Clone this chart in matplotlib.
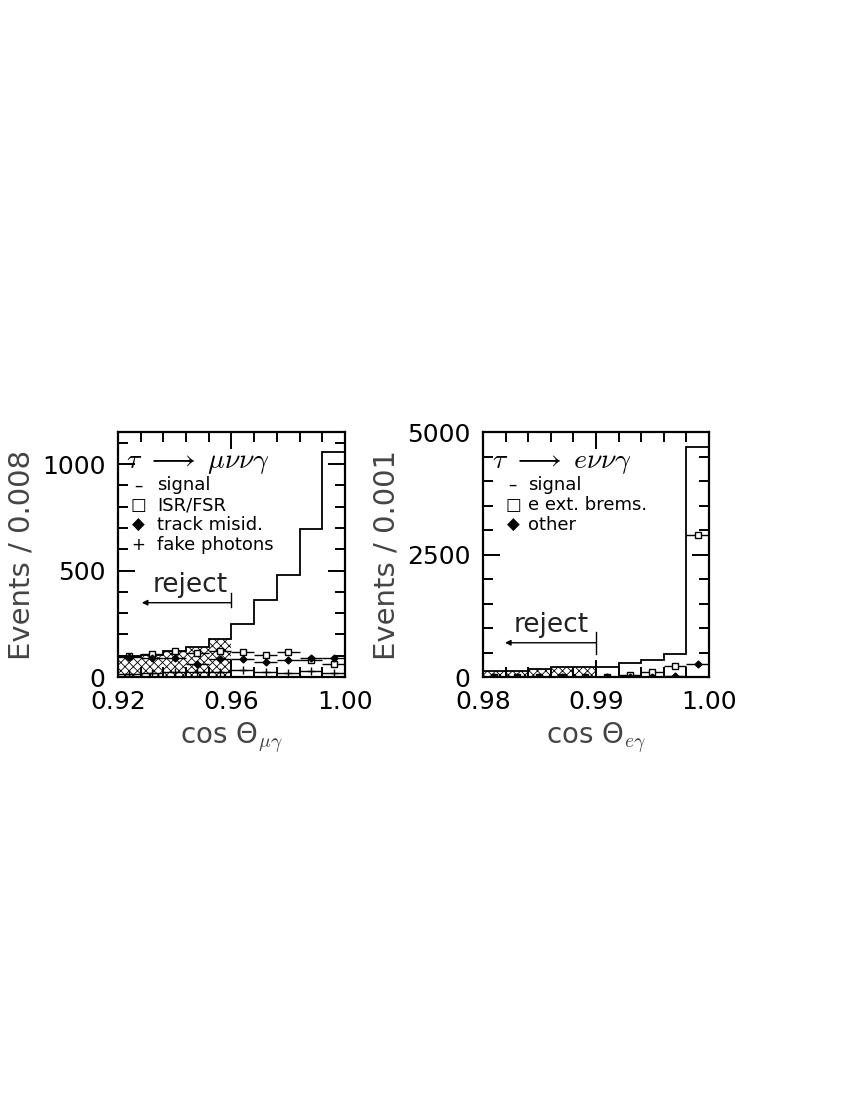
import matplotlib
matplotlib.use('Agg')
import matplotlib.pyplot as plt
import numpy as np

plt.rcParams['font.family'] = ['DejaVu Sans']
plt.rcParams['mathtext.fontset'] = 'cm'
plt.rcParams['hatch.linewidth'] = 0.6

# left panel: tau -> mu nu nu gamma, bins of 0.008
mu_edges = np.linspace(0.92, 1.00, 11)
mu_signal = [98, 103, 122, 139, 177, 248, 360, 478, 695, 1055]
mu_isr = [99, 108, 122, 114, 122, 119, 103, 119, 80, 59]
mu_misid = [95, 90, 88, 60, 85, 83, 70, 80, 88, 88]
mu_fake = [12, 18, 22, 26, 26, 33, 25, 20, 28, 17]

# right panel: tau -> e nu nu gamma, bins of 0.001 (0.002 wide)
e_edges = np.linspace(0.98, 1.00, 11)
e_signal = [130, 130, 165, 205, 205, 200, 285, 350, 465, 4700]
e_brems = [0, 0, 0, 0, 0, 0, 50, 95, 225, 2900]
e_other = [0, 0, 0, 0, 0, 0, 5, 8, 30, 260]

fig = plt.figure(figsize=(8.5, 11), dpi=100)
ax1 = fig.add_axes([0.1388, 0.3845, 0.2671, 0.2227])
ax2 = fig.add_axes([0.5682, 0.3845, 0.2659, 0.2227])


def style_axes(ax, xlim, ylim, xmaj, xmin, ymaj, ymin, ylabel, xlabel):
    ax.set_xlim(*xlim)
    ax.set_ylim(*ylim)
    ax.set_xticks(xmaj)
    ax.set_xticks(xmin, minor=True)
    ax.set_yticks(ymaj)
    ax.set_yticks(ymin, minor=True)
    ax.tick_params(which='both', direction='in', top=True, right=True, width=1.4)
    ax.tick_params(which='major', length=12, labelsize=18, pad=9)
    ax.tick_params(which='minor', length=7)
    for s in ax.spines.values():
        s.set_linewidth(1.6)
    ax.set_ylabel(ylabel, fontsize=21, color='#444444', labelpad=5)
    ax.set_xlabel(xlabel, fontsize=20, color='#444444', labelpad=5)


def draw_panel(ax, edges, signal, series, cut, reject_y, reject_left):
    centers = (edges[:-1] + edges[1:]) / 2
    width = edges[1] - edges[0]
    signal = np.array(signal)
    rej = centers < cut
    ax.bar(centers[rej], signal[rej], width=width, fill=False, hatch='xxxx',
           edgecolor='black', linewidth=0)
    ax.stairs(signal, edges, color='black', linewidth=1.3)
    for vals, marker, mfc, ms in series:
        ax.errorbar(centers, vals, xerr=width / 2, yerr=np.sqrt(np.array(vals)) * 0.3,
                    fmt=marker, mfc=mfc, mec='black', ms=ms, color='black',
                    elinewidth=1.0, capsize=0, zorder=4)
    # reject arrow
    ax.annotate('', xy=(reject_left, reject_y), xytext=(cut, reject_y),
                arrowprops=dict(arrowstyle='-|>', color='black', lw=1.0,
                                mutation_scale=8, shrinkA=0, shrinkB=0))
    return centers


style_axes(ax1, (0.92, 1.00), (0, 1150), [0.92, 0.96, 1.00], mu_edges,
           [0, 500, 1000], np.arange(0, 1150, 100), 'Events / 0.008',
           r'cos Θ$_{\mu\gamma}$')
ax1.set_xticklabels(['0.92', '0.96', '1.00'])
draw_panel(ax1, mu_edges, mu_signal,
           [(mu_isr, 's', 'white', 4.5), (mu_misid, 'D', 'black', 3.5),
            (mu_fake, '+', 'black', 6)],
           0.96, 349, 0.9284)
ax1.plot([0.96, 0.96], [330, 395], color='black', lw=1.0)
ax1.text(0.9455, 372, 'reject', fontsize=19, ha='center', va='bottom', color='#222222')
ax1.text(0.9228, 1010, r'$\tau\ \longrightarrow\ \mu\nu\nu\gamma$', fontsize=20,
         ha='left', va='center')
leg1 = [('–', 'signal'), ('□', 'ISR/FSR'), ('◆', 'track misid.'), ('+', 'fake photons')]
for i, (sym, lab) in enumerate(leg1):
    y = 900 - i * 94
    ax1.text(0.92705, y, sym, fontsize=12, ha='center', va='center')
    ax1.text(0.93375, y, lab, fontsize=13, ha='left', va='center')

style_axes(ax2, (0.98, 1.00), (0, 5000), [0.98, 0.99, 1.00], e_edges,
           [0, 2500, 5000], np.arange(0, 5001, 500), 'Events / 0.001',
           r'cos Θ$_{e\gamma}$')
ax2.set_xticklabels(['0.98', '0.99', '1.00'])
draw_panel(ax2, e_edges, e_signal,
           [(e_brems, 's', 'white', 4.5), (e_other, 'D', 'black', 3.5)],
           0.99, 700, 0.98195)
ax2.plot([0.99, 0.99], [480, 925], color='black', lw=1.0)
ax2.text(0.986, 800, 'reject', fontsize=19, ha='center', va='bottom', color='#222222')
ax2.text(0.9808, 4390, r'$\tau\ \longrightarrow\ e\nu\nu\gamma$', fontsize=20,
         ha='left', va='center')
leg2 = [('–', 'signal'), ('□', 'e ext. brems.'), ('◆', 'other')]
for i, (sym, lab) in enumerate(leg2):
    y = 3920 - i * 410
    ax2.text(0.98265, y, sym, fontsize=12, ha='center', va='center')
    ax2.text(0.9840, y, lab, fontsize=13, ha='left', va='center')

fig.savefig('out.png', dpi=100)
